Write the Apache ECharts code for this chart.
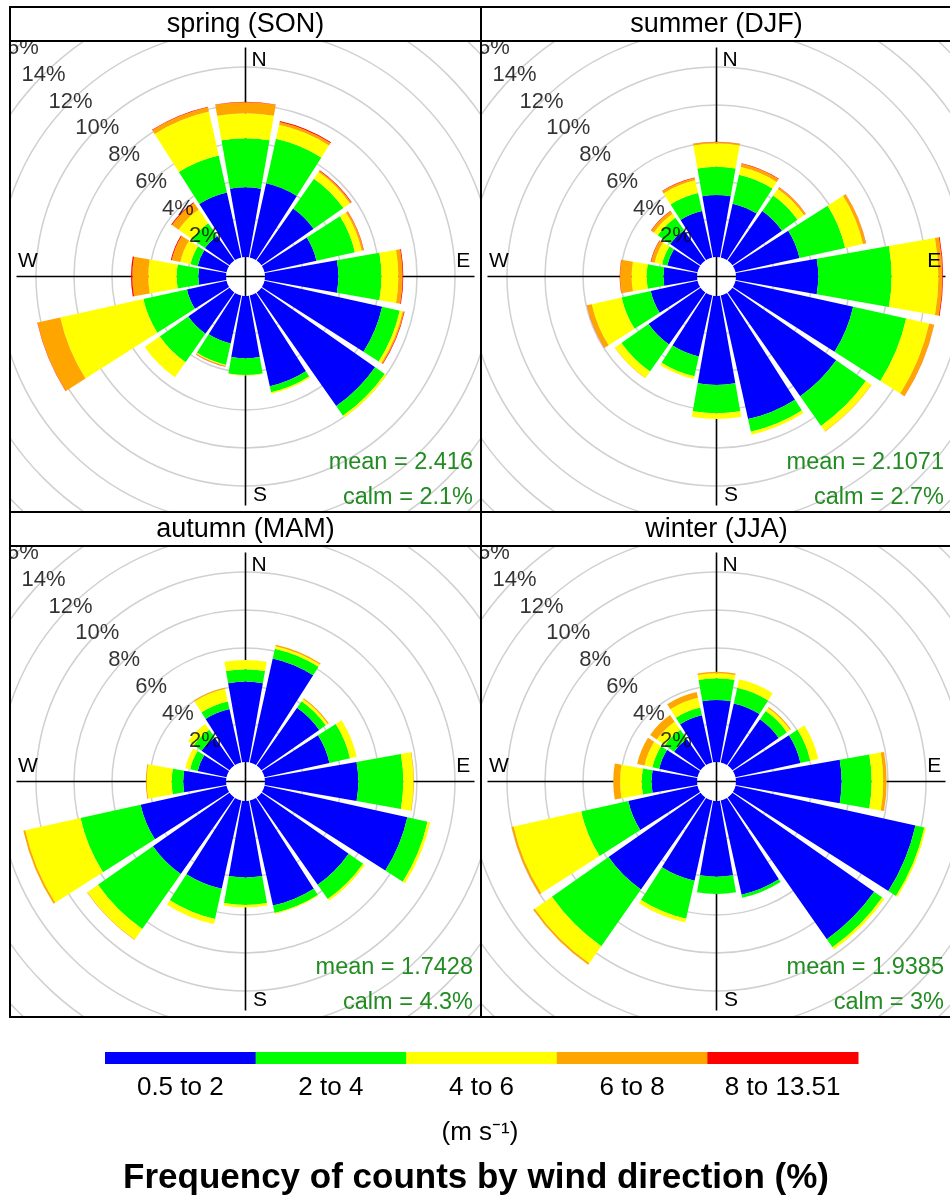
<!DOCTYPE html>
<html>
<head>
<meta charset="utf-8">
<script src="https://cdn.jsdelivr.net/npm/echarts@6/dist/echarts.min.js"></script>
<style>
html, body { margin: 0; padding: 0; width: 950px; height: 1200px; overflow: hidden; background: #fff; }
.panel { position: absolute; width: 471px; height: 471px; }
#frame { position: absolute; left: 0; top: 0; width: 950px; height: 1200px; z-index: 5; pointer-events: none; }
</style>
</head>
<body>
<div class="panel" id="p0" style="left:10px;top:41px"></div>
<div class="panel" id="p1" style="left:481px;top:41px"></div>
<div class="panel" id="p2" style="left:10px;top:546px"></div>
<div class="panel" id="p3" style="left:481px;top:546px"></div>
<div id="frame"></div>
<script>
var FONT = '"Liberation Sans", Arial, sans-serif';

var directions = ['N', 'NNE', 'NE', 'ENE', 'E', 'ESE', 'SE', 'SSE', 'S', 'SSW', 'SW', 'WSW', 'W', 'WNW', 'NW', 'NNW'];
var speedBins = ['0.5 to 2', '2 to 4', '4 to 6', '6 to 8', '8 to 13.51'];
var speedColors = ['#0000ff', '#00ff00', '#ffff00', '#ffa500', '#ff0000'];
var ringTicks = [2, 4, 6, 8, 10, 12, 14, 16];

var seasonTitles = ['spring (SON)', 'summer (DJF)', 'autumn (MAM)', 'winter (JJA)'];
var meanSpeed = ['2.416', '2.1071', '1.7428', '1.9385'];
var calmPct = ['2.1', '2.7', '4.3', '3'];

// frequency (%) by direction, one array per speed class
var sonBlue   = [3.67, 4.0, 3.35, 2.8, 3.86, 6.34, 7.3, 4.89, 3.28, 2.58, 2.65, 2.13, 1.46, 1.55, 1.58, 3.5];
var sonGreen  = [2.58, 2.4, 1.91, 2.07, 2.27, 0.95, 0.62, 0.32, 0.88, 1.16, 1.83, 2.35, 1.14, 0.39, 0.82, 2.0];
var sonYellow = [1.31, 0.75, 0.42, 0.37, 0.89, 0.16, 0.11, 0.08, 0.02, 0.04, 0.97, 4.48, 1.49, 0.55, 0.87, 2.37];
var sonOrange = [0.59, 0.15, 0.08, 0.1, 0.22, 0.07, 0, 0, 0, 0.04, 0, 1.22, 0.84, 0.46, 0.43, 0.23];
var sonRed    = [0.02, 0.05, 0.04, 0.02, 0.04, 0.03, 0, 0, 0, 0.02, 0, 0.02, 0.07, 0.05, 0.05, 0.03];

var djfBlue   = [3.26, 2.9, 3.18, 3.45, 4.33, 6.34, 6.66, 6.66, 4.68, 3.28, 3.34, 2.52, 1.77, 1.63, 1.95, 2.5];
var djfGreen  = [1.49, 1.56, 1.0, 2.46, 3.86, 2.86, 1.91, 0.68, 1.49, 1.07, 1.74, 1.57, 0.88, 0.28, 0.8, 0.97];
var djfYellow = [1.23, 0.41, 0.42, 0.96, 2.46, 1.24, 0.35, 0.16, 0.3, 0.15, 0.42, 1.61, 0.79, 0.4, 0.25, 0.69];
var djfOrange = [0.07, 0.18, 0.11, 0.16, 0.21, 0.26, 0.02, 0, 0, 0, 0.01, 0.26, 0.61, 0.19, 0.17, 0.13];
var djfRed    = [0.02, 0.03, 0.01, 0.01, 0.04, 0.01, 0, 0, 0, 0, 0, 0.01, 0.02, 0.03, 0.02, 0.02];

var mamBlue   = [4.23, 5.6, 3.71, 3.5, 4.91, 7.7, 5.6, 5.66, 4.02, 4.76, 4.92, 4.63, 2.25, 1.55, 1.8, 2.88];
var mamGreen  = [0.65, 0.53, 0.42, 1.11, 2.37, 1.09, 0.93, 0.4, 1.45, 1.63, 3.53, 3.24, 0.61, 0.41, 0.5, 0.41];
var mamYellow = [0.49, 0.14, 0.13, 0.36, 0.53, 0.14, 0.11, 0.05, 0.13, 0.27, 0.68, 2.98, 1.31, 0.26, 0.36, 0.68];
var mamOrange = [0, 0.07, 0.06, 0, 0.03, 0, 0, 0, 0, 0, 0.03, 0.1, 0.05, 0, 0, 0.06];
var mamRed    = [0, 0, 0, 0, 0, 0, 0, 0, 0, 0, 0, 0, 0, 0, 0, 0];

var jjaBlue   = [3.26, 3.18, 2.97, 3.5, 5.56, 9.7, 9.1, 5.08, 3.98, 4.32, 5.91, 3.73, 2.39, 2.06, 1.7, 2.54];
var jjaGreen  = [1.15, 0.85, 0.53, 0.53, 1.58, 0.48, 0.52, 0.16, 0.91, 2.05, 3.64, 2.54, 0.52, 0.37, 0.6, 0.42];
var jjaYellow = [0.26, 0.45, 0.2, 0.43, 0.61, 0.09, 0.14, 0, 0, 0.21, 1.1, 3.64, 1.14, 0.43, 0.52, 0.53];
var jjaOrange = [0.08, 0, 0.06, 0, 0.18, 0, 0, 0, 0, 0, 0.1, 0.11, 0.36, 0.39, 0.42, 0.31];
var jjaRed    = [0, 0, 0, 0, 0, 0, 0, 0, 0, 0, 0, 0, 0, 0, 0, 0];

var seasonStacks = [
  [sonBlue, sonGreen, sonYellow, sonOrange, sonRed],
  [djfBlue, djfGreen, djfYellow, djfOrange, djfRed],
  [mamBlue, mamGreen, mamYellow, mamOrange, mamRed],
  [jjaBlue, jjaGreen, jjaYellow, jjaOrange, jjaRed]
];

var SIZE = 471;
var cx = SIZE / 2, cy = SIZE / 2;
var crossLen = 229;

function roseOption(idx) {
  var series = speedBins.map(function (name, k) {
    return {
      name: name,
      type: 'bar',
      coordinateSystem: 'polar',
      stack: 'ws',
      barCategoryGap: '11%',
      silent: true,
      z: 2,
      itemStyle: { color: speedColors[k] },
      data: seasonStacks[idx][k]
    };
  });
  // ring labels along the NW ray
  series.push({
    type: 'scatter',
    coordinateSystem: 'polar',
    symbolSize: 1,
    silent: true,
    z: 5,
    itemStyle: { color: 'rgba(0,0,0,0)' },
    label: {
      show: true,
      position: 'inside',
      color: '#000',
      fontSize: 22,
      fontFamily: FONT,
      formatter: function (p) { return p.value[0] + '%'; }
    },
    data: ringTicks.map(function (t) { return [t, 'NW']; })
  });

  var ringColors = ['rgba(0,0,0,0)'];
  ringTicks.forEach(function () { ringColors.push('#d0d0d0'); });

  var txt = function (x, y, s, align, color, size) {
    return {
      type: 'text', x: x, y: y, z: 10, silent: true,
      style: { text: s, fill: color, font: size + 'px ' + FONT, textAlign: align, textVerticalAlign: 'middle' }
    };
  };

  return {
    animation: false,
    polar: { center: ['50%', '50%'], radius: [19.5, 323.5] },
    angleAxis: {
      type: 'category', data: directions, startAngle: 101.25, clockwise: true,
      axisLine: { show: false }, axisTick: { show: false }, axisLabel: { show: false }, splitLine: { show: false }
    },
    radiusAxis: {
      type: 'value', min: 0, max: 16, interval: 2,
      axisLine: { show: false }, axisTick: { show: false }, axisLabel: { show: false },
      splitLine: { show: true, lineStyle: { color: ringColors, width: 1.5 } }
    },
    graphic: [
      { type: 'line', z: 1, silent: true, shape: { x1: cx, y1: cy - crossLen, x2: cx, y2: cy + crossLen }, style: { stroke: '#000', lineWidth: 1.6 } },
      { type: 'line', z: 1, silent: true, shape: { x1: cx - crossLen, y1: cy, x2: cx + crossLen, y2: cy }, style: { stroke: '#000', lineWidth: 1.6 } },
      txt(cx + 6, cy - 216.5, 'N', 'left', '#000', 21),
      txt(cx + 7.5, cy + 218.5, 'S', 'left', '#000', 21),
      txt(cx - 217.5, cy - 15.5, 'W', 'center', '#000', 21),
      txt(cx + 217.8, cy - 15.5, 'E', 'center', '#000', 21),
      txt(SIZE - 8, 422, 'mean = ' + meanSpeed[idx], 'right', '#228b22', 23.5),
      txt(SIZE - 8, 457, 'calm = ' + calmPct[idx] + '%', 'right', '#228b22', 23.5)
    ],
    series: series
  };
}

for (var i = 0; i < 4; i++) {
  var chart = echarts.init(document.getElementById('p' + i), null, { renderer: 'canvas' });
  chart.setOption(roseOption(i));
}

// frame: strips, borders, legend and caption
var frame = echarts.init(document.getElementById('frame'));
var els = [];
var colX = [10, 481];
var rowY = [7, 512];
var stripH = 34;
for (var r = 0; r < 2; r++) {
  for (var c = 0; c < 2; c++) {
    var x0 = colX[c], y0 = rowY[r];
    els.push({ type: 'rect', z: 20, shape: { x: x0, y: y0, width: SIZE, height: stripH + SIZE }, style: { fill: 'none', stroke: '#000', lineWidth: 2 } });
    els.push({ type: 'line', z: 20, shape: { x1: x0, y1: y0 + stripH, x2: x0 + SIZE, y2: y0 + stripH }, style: { stroke: '#000', lineWidth: 2 } });
    els.push({ type: 'text', z: 20, x: x0 + SIZE / 2, y: y0 + stripH / 2 + 0.5,
      style: { text: seasonTitles[r * 2 + c], fill: '#000', font: '27px ' + FONT, textAlign: 'center', textVerticalAlign: 'middle' } });
  }
}

var legX = 105, legW = 753, legY = 1052, legH = 12;
var segW = legW / speedBins.length;
speedBins.forEach(function (name, k) {
  els.push({ type: 'rect', z: 20, shape: { x: legX + k * segW, y: legY, width: segW + 0.5, height: legH }, style: { fill: speedColors[k] } });
  els.push({ type: 'text', z: 20, x: legX + (k + 0.5) * segW, y: 1088,
    style: { text: name, fill: '#000', font: '26px ' + FONT, textAlign: 'center', textVerticalAlign: 'middle' } });
});
els.push({ type: 'text', z: 20, x: 480, y: 1133,
  style: { text: '(m s\u207B\u00B9)', fill: '#000', font: '26px ' + FONT, textAlign: 'center', textVerticalAlign: 'middle' } });
els.push({ type: 'text', z: 20, x: 476, y: 1178,
  style: { text: 'Frequency of counts by wind direction (%)', fill: '#000', font: 'bold 35px ' + FONT, textAlign: 'center', textVerticalAlign: 'middle' } });

frame.setOption({ animation: false, graphic: { elements: els } });
</script>
</body>
</html>
